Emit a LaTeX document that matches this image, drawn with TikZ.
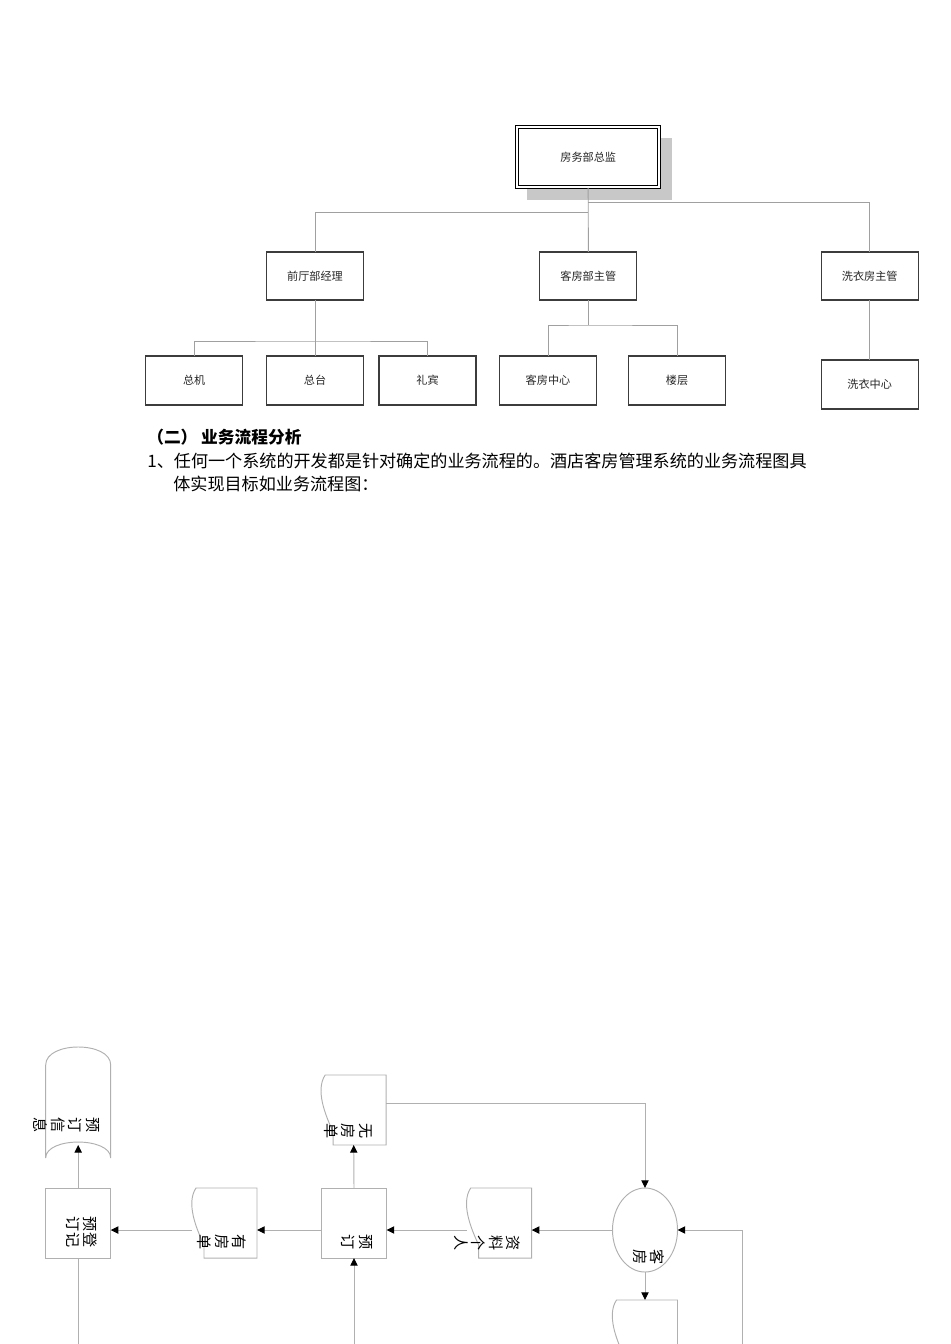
\documentclass[tikz,border=0pt]{standalone}
\usepackage{fontspec}
\setmainfont{Noto Sans CJK SC}
\usetikzlibrary{arrows.meta,calc,shadows,shapes.geometric}
\newcommand\pxl{0.221mm}
\definecolor{orggray}{HTML}{A0A0A0}
\definecolor{boxgray}{HTML}{3C3C3C}
\definecolor{shadegray}{HTML}{C8C8C8}
\definecolor{flowgray}{HTML}{B0B0B0}
\tikzset{
  orgbox/.style={draw=boxgray, line width=0.7pt, fill=white, inner sep=0pt, outer sep=0pt,
    minimum width=97*\pxl, minimum height=48*\pxl, font=\fontsize{7}{8}\selectfont, text=black!85},
  topbox/.style={orgbox, draw=black, line width=0.5pt,
    minimum width=145*\pxl, minimum height=62*\pxl,
    drop shadow={shadow xshift=2.6mm, shadow yshift=-2.6mm, fill=shadegray, opacity=1}},
  orgline/.style={draw=orggray, line width=0.6pt},
  bodytext/.style={anchor=west, inner sep=0pt, font=\fontsize{10.75}{13}\selectfont},
  flbox/.style={draw=flowgray, line width=0.6pt, inner sep=0pt, outer sep=0pt,
    minimum width=65*\pxl, minimum height=70*\pxl},
  fldoc/.style={flbox, draw=none},
  flstore/.style={flbox, draw=none, minimum height=98*\pxl},
  flellipse/.style={flbox, ellipse, minimum width=65*\pxl, minimum height=84*\pxl},
  fltext/.style={rotate=-90, align=center, inner sep=0pt, font=\fontsize{9.5}{11}\selectfont},
  fl/.style={draw=flowgray, line width=0.6pt},
  arr/.style={fl, -{Triangle[length=4.8pt,width=4.6pt,color=black]}}
}
\begin{document}
\begin{tikzpicture}[x=0.0221cm,y=-0.0221cm]
\useasboundingbox (0,0) rectangle (950,1344);
\clip (0,0) rectangle (950,1344);

% org chart
\node[topbox] (zongjian) at (588.2,156.9) {房务部总监};
\draw[line width=0.5pt] ($(zongjian.north west)+(3,3)$) rectangle ($(zongjian.south east)+(-3,-3)$);
\node[orgbox] (qianting) at (315,276) {前厅部经理};
\node[orgbox] (kefang) at (588.3,276) {客房部主管};
\node[orgbox] (xiyi) at (869.7,276) {洗衣房主管};
\node[orgbox, minimum height=49*\pxl] (zongji) at (194.2,380.5) {总机};
\node[orgbox, minimum height=49*\pxl] (zongtai) at (315,380.5) {总台};
\node[orgbox, minimum height=49*\pxl] (libin) at (427.5,380.5) {礼宾};
\node[orgbox, minimum height=49*\pxl] (kfzx) at (548,380.5) {客房中心};
\node[orgbox, minimum height=49*\pxl] (louceng) at (677,380.5) {楼层};
\node[orgbox, minimum height=49*\pxl] (xyzx) at (869.7,384.5) {洗衣中心};

\coordinate (lbus) at (588.3,212);
\coordinate (rbus) at (588.3,202);
\coordinate (qtbus) at (315,341);
\coordinate (kfbus) at (588.3,325);
\draw[orgline] (zongjian.south) -- (kefang.north);
\draw[orgline] (qianting.north) |- (lbus);
\draw[orgline] (xiyi.north) |- (rbus);
\draw[orgline] (qianting.south) -- (zongtai.north);
\draw[orgline] (zongji.north) |- (qtbus) -| (libin.north);
\draw[orgline] (kefang.south) -- (kfbus);
\draw[orgline] (kfzx.north) |- (kfbus) -| (louceng.north);
\draw[orgline] (xiyi.south) -- (xyzx.north);

% text
\node[bodytext, font=\fontsize{10.5}{13}\selectfont\bfseries] (sec) at (147,437) {（二）\ 业务流程分析};
\node[bodytext] (para1) at (147,461) {1、任何一个系统的开发都是针对确定的业务流程的。酒店客房管理系统的业务流程图具};
\node[bodytext] (para2) at (173,484) {体实现目标如业务流程图：};

% flow chart
\node[flbox] (ydj) at (78.2,1223) {};
\node[flbox] (yd) at (354,1223) {};
\node[fldoc] (yf) at (224.5,1223) {};
\node[fldoc] (wf) at (353.7,1110) {};
\node[fldoc] (zl) at (499.2,1223) {};
\node[fldoc] (kfd) at (645,1335) {};
\node[flstore] (xx) at (78.2,1096) {};
\node[flellipse] (kf) at (645,1230) {};

\foreach \d in {yf,wf,zl,kfd}
  \draw[fl] ($(\d.north west)+(4,0)$) .. controls ($(\d.north west)+(-6,15)$) and ($(\d.north west)+(4,40)$) .. ($(\d.north west)+(12,57)$)
    -- ($(\d.south west)+(12,0)$) -- (\d.south east) -- (\d.north east) -- cycle;
\draw[fl] ($(xx.north west)+(0,18)$) .. controls ($(xx.north west)+(0,-6)$) and ($(xx.north east)+(0,-6)$) .. ($(xx.north east)+(0,18)$)
  -- ($(xx.south east)+(0,13)$) .. controls ($(xx.south east)+(0,-8.3)$) and ($(xx.south west)+(0,-8.3)$) .. ($(xx.south west)+(0,13)$) -- cycle;

\node[fltext] (xx-t) at (66.7,1125) {预\\订\\信\\息};
\node[fltext] (ydj-t) at (82,1232) {预登\\订记};
\node[fltext] (yf-t) at (222,1242) {有\\房\\单};
\node[fltext] (yd-t) at (357,1242) {预\\订};
\node[fltext] (wf-t) at (348,1131) {无\\房\\单};
\node[fltext] (zl-t) at (487,1243) {资\\料\\个\\人};
\node[fltext] (kf-t) at (649,1257) {客\\房};

\coordinate (inR) at (742,1380);
\coordinate (inYd) at (354,1380);
\coordinate (outYdj) at (78.2,1380);
\draw[arr] (ydj.north) -- (xx.south);
\draw[arr] (yf.west |- kf.west) -- (ydj.east |- kf.west);
\draw[arr] (yd.west |- kf.west) -- (yf.east |- kf.west);
\draw[arr] (zl.west |- kf.west) -- (yd.east |- kf.west);
\draw[arr] (kf.west) -- (zl.east |- kf.west);
\draw[arr] (yd.north) -- (wf.south);
\draw[arr] ($(wf.north east)+(0,28)$) -| (kf.north);
\draw[arr] (kf.south) -- (kfd.north);
\draw[arr] (inR) |- (kf.east);
\draw[arr] (inYd) -- (yd.south);
\draw[fl] (ydj.south) -- (outYdj);
\end{tikzpicture}
\end{document}
